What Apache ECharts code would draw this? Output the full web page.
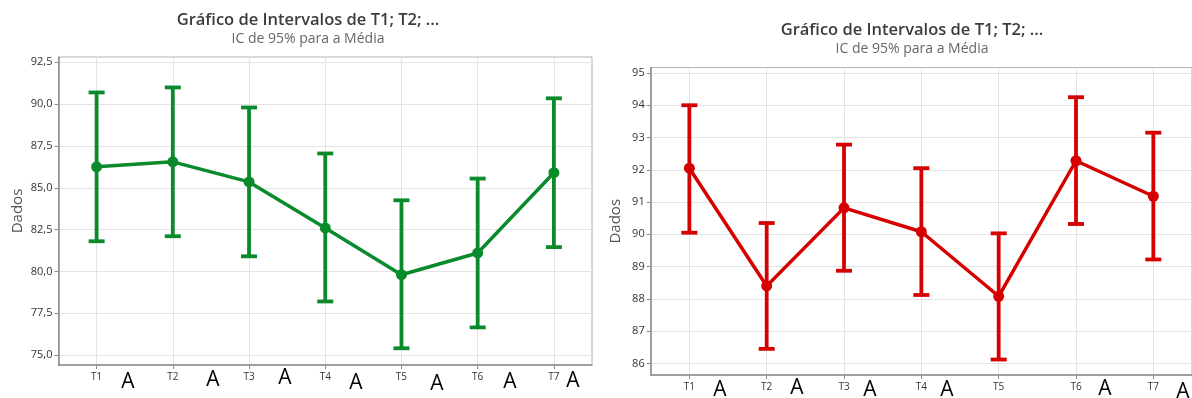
<!DOCTYPE html>
<html>
<head>
<meta charset="utf-8">
<script src="https://cdn.jsdelivr.net/npm/echarts@6/dist/echarts.min.js"></script>
<style>
html,body{margin:0;padding:0;background:#fff;}
#chart{width:1192px;height:398px;}
</style>
</head>
<body>
<div id="chart"></div>
<script>
// ---- data ----
const categories = ['T1','T2','T3','T4','T5','T6','T7'];

const greenMean  = [86.25, 86.55, 85.35, 82.60, 79.80, 81.10, 85.90];
const greenLower = [81.80, 82.10, 80.90, 78.20, 75.40, 76.65, 81.45];
const greenUpper = [90.70, 91.00, 89.80, 87.05, 84.25, 85.55, 90.35];

const redMean  = [92.05, 88.40, 90.82, 90.08, 88.08, 92.28, 91.18];
const redLower = [90.05, 86.45, 88.87, 88.12, 86.12, 90.32, 89.22];
const redUpper = [94.00, 90.35, 92.78, 92.05, 90.03, 94.25, 93.15];

const greenTicks = [75, 77.5, 80, 82.5, 85, 87.5, 90, 92.5];
const redTicks = [86, 87, 88, 89, 90, 91, 92, 93, 94, 95];

const greenLetters = ['A','A','A','A','A','A','A'];
const redLetters   = ['A','A','A','A','','A','A'];

const titleText = 'Gráfico de Intervalos de T1; T2; ...';
const subtitleText = 'IC de 95% para a Média';
const yName = 'Dados';

// ---- chart ----
const GREEN = '#0b8a2b';
const RED = '#d60000';
const FONT = '"Open Sans", "Noto Sans", sans-serif';

function errorSeries(lower, upper, color, axisIdx) {
  return {
    type: 'custom',
    xAxisIndex: axisIdx, yAxisIndex: axisIdx,
    data: lower.map((l, i) => [i, l, upper[i]]),
    encode: { x: 0, y: [1, 2] },
    z: 2,
    renderItem: function (params, api) {
      const x = api.value(0);
      const lo = api.coord([x, api.value(1)]);
      const hi = api.coord([x, api.value(2)]);
      const half = 8;
      const style = { stroke: color, lineWidth: 3.8, fill: null };
      return {
        type: 'group',
        children: [
          { type: 'line', shape: { x1: lo[0], y1: lo[1], x2: hi[0], y2: hi[1] }, style },
          { type: 'line', shape: { x1: hi[0] - half, y1: hi[1], x2: hi[0] + half, y2: hi[1] }, style },
          { type: 'line', shape: { x1: lo[0] - half, y1: lo[1], x2: lo[0] + half, y2: lo[1] }, style }
        ]
      };
    }
  };
}

function meanSeries(mean, color, axisIdx) {
  return {
    type: 'line',
    xAxisIndex: axisIdx, yAxisIndex: axisIdx,
    data: mean,
    symbol: 'circle',
    symbolSize: 11,
    lineStyle: { color: color, width: 3.5 },
    itemStyle: { color: color },
    z: 3,
    animation: false
  };
}

function xAxisCfg(gridIndex) {
  return {
    type: 'category',
    gridIndex: gridIndex,
    data: categories,
    boundaryGap: true,
    axisLine: { lineStyle: { color: '#8c8c8c', width: 1.5 } },
    axisTick: { show: true, alignWithLabel: true, length: 4, lineStyle: { color: '#8c8c8c' } },
    axisLabel: { color: '#333', fontSize: 10, fontFamily: FONT, margin: 7 },
    splitLine: { show: true, alignWithLabel: true, lineStyle: { color: '#e3e3e3', width: 1 } }
  };
}

function yAxisCfg(gridIndex, min, max, ticks, fmt, gap) {
  return {
    type: 'value',
    gridIndex: gridIndex,
    min: min, max: max,
    name: yName,
    nameLocation: 'middle',
    nameGap: gap,
    nameTextStyle: { color: '#555', fontSize: 15, fontFamily: FONT },
    axisLine: { show: true, lineStyle: { color: '#8c8c8c', width: 1.5 } },
    axisTick: { show: true, length: 4, customValues: ticks, lineStyle: { color: '#8c8c8c' } },
    axisLabel: { color: '#333', fontSize: 11, fontFamily: FONT, margin: 6, customValues: ticks, formatter: fmt },
    splitLine: { show: true, lineStyle: { color: '#e3e3e3', width: 1 } }
  };
}

function letterGraphics(letters, positions) {
  const out = [];
  letters.forEach((t, i) => {
    if (!t) return;
    out.push({
      type: 'text',
      x: positions[i][0], y: positions[i][1],
      style: { text: t, fill: '#000', fontSize: 21, fontFamily: FONT, align: 'center', verticalAlign: 'middle' },
      z: 10
    });
  });
  return out;
}

const greenLetterPos = [[128,382],[213,380],[285,378],[356,383],[437,384],[510,382],[573,381]];
const redLetterPos   = [[720,390],[797,388],[870,390],[947,390],[0,0],[1105,389],[1183,392]];

const titleStyle = { fontSize: 16.5, fontWeight: 600, color: '#3c3c3c', fontFamily: FONT };
const subStyle = { fontSize: 14, color: '#666', fontFamily: FONT };

const chart = echarts.init(document.getElementById('chart'), null, { renderer: 'canvas' });
chart.setOption({
  backgroundColor: '#fff',
  animation: false,
  title: [
    { text: titleText, subtext: subtitleText, left: 303, top: 7, textAlign: 'center', itemGap: 3,
      textStyle: titleStyle, subtextStyle: subStyle },
    { text: titleText, subtext: subtitleText, left: 907, top: 17, textAlign: 'center', itemGap: 3,
      textStyle: titleStyle, subtextStyle: subStyle }
  ],
  grid: [
    { left: 58.5, top: 57, width: 533.5, height: 308, show: true, borderColor: '#b0b0b0', borderWidth: 1, backgroundColor: 'transparent' },
    { left: 650.7, top: 67.5, width: 542.5, height: 307.5, show: true, borderColor: '#b0b0b0', borderWidth: 1, backgroundColor: 'transparent' }
  ],
  xAxis: [xAxisCfg(0), xAxisCfg(1)],
  yAxis: [
    yAxisCfg(0, 74.4, 92.82, greenTicks, v => v.toFixed(1).replace('.', ','), 33),
    yAxisCfg(1, 85.64, 95.17, redTicks, v => String(Math.round(v)), 27)
  ],
  series: [
    errorSeries(greenLower, greenUpper, GREEN, 0),
    meanSeries(greenMean, GREEN, 0),
    errorSeries(redLower, redUpper, RED, 1),
    meanSeries(redMean, RED, 1)
  ],
  graphic: letterGraphics(greenLetters, greenLetterPos).concat(letterGraphics(redLetters, redLetterPos))
});
</script>
</body>
</html>
